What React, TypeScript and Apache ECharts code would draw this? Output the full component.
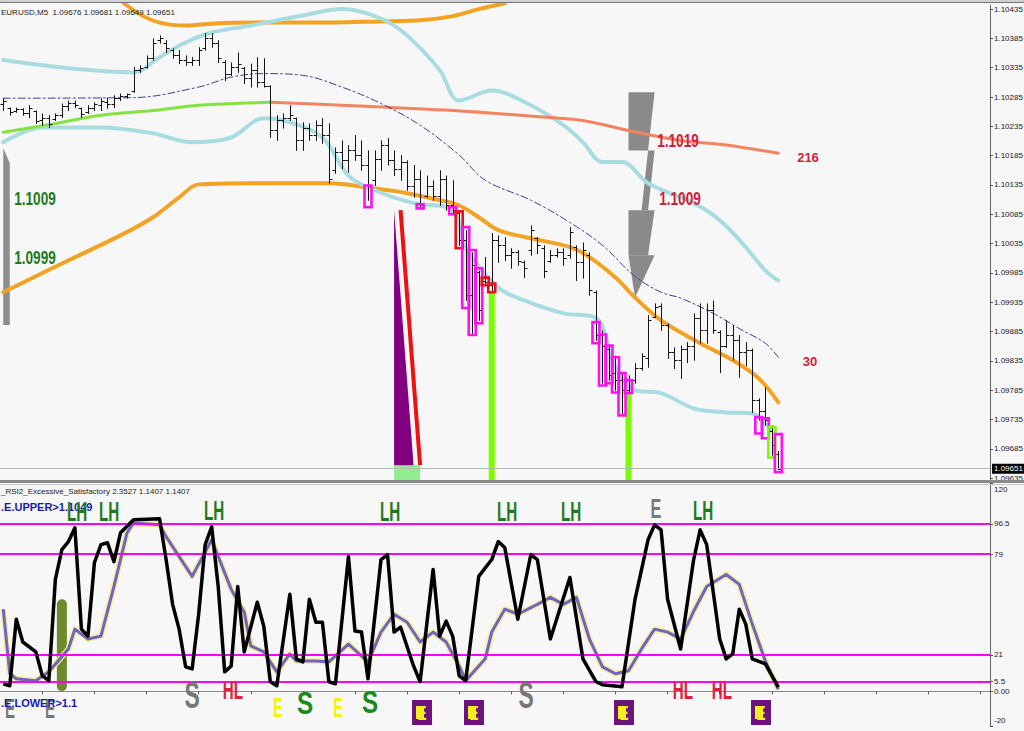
import React, { useEffect, useRef } from "react";
import * as echarts from "echarts";

// ---------- data ----------
const SLOT_COUNT = 152;
const categories = Array.from({ length: SLOT_COUNT }, (_, i) => String(i));

const priceTicks = [1.09635, 1.09685, 1.09735, 1.09785, 1.09835, 1.09885, 1.09935, 1.09985, 1.10035, 1.10085, 1.10135, 1.10185, 1.10235, 1.10285, 1.10335, 1.10385, 1.10435];
const rsiTicks = [120, 96.5, 79, 21, 5.5, 0, -20];
const rsiLevels = [96.5, 79, 21, 5.5];
const timeLabels = ["20 Nov 07:10", "20 Nov 07:50", "20 Nov 08:30", "20 Nov 09:10", "20 Nov 09:50", "20 Nov 10:30", "20 Nov 11:10", "20 Nov 11:50", "20 Nov 12:30", "20 Nov 13:10", "20 Nov 13:50", "20 Nov 14:30", "20 Nov 15:10", "20 Nov 15:50", "20 Nov 16:30", "20 Nov 17:10", "20 Nov 17:50", "20 Nov 18:30", "20 Nov 19:10"];
const lastClose = 1.09651;

// [open, high, low, close]
const bars = [
  [1.10273, 1.10283, 1.10262, 1.10278], [1.10266, 1.10267, 1.10254, 1.10259], [1.10261, 1.10267, 1.10259, 1.10264], [1.10264, 1.10266, 1.10254, 1.10257],
  [1.10257, 1.10271, 1.1025, 1.10266], [1.10261, 1.10262, 1.1024, 1.10244], [1.10245, 1.10257, 1.10237, 1.10249], [1.10249, 1.10254, 1.10233, 1.10239],
  [1.10247, 1.10257, 1.10245, 1.10254], [1.10254, 1.10274, 1.1025, 1.10269], [1.10269, 1.10279, 1.10262, 1.10274], [1.10274, 1.10279, 1.10267, 1.10271],
  [1.10266, 1.10267, 1.1025, 1.10256], [1.10259, 1.10271, 1.10257, 1.10266], [1.10266, 1.10276, 1.10262, 1.10273], [1.10271, 1.10283, 1.10262, 1.10278],
  [1.10276, 1.10284, 1.10266, 1.10273], [1.10273, 1.10288, 1.10267, 1.10284], [1.10284, 1.10291, 1.10279, 1.10286], [1.10286, 1.10291, 1.10283, 1.1029],
  [1.10296, 1.10336, 1.10293, 1.10331], [1.10331, 1.10339, 1.10327, 1.10334], [1.10337, 1.10356, 1.10334, 1.10351], [1.10351, 1.10385, 1.10348, 1.10378],
  [1.10382, 1.1039, 1.10377, 1.10385], [1.10378, 1.10382, 1.10361, 1.10368], [1.10366, 1.10368, 1.10351, 1.10356], [1.10356, 1.10365, 1.10342, 1.10348],
  [1.10348, 1.10356, 1.10339, 1.10344], [1.10344, 1.10353, 1.10339, 1.10348], [1.10348, 1.1037, 1.10339, 1.10365], [1.10368, 1.10394, 1.10365, 1.10385],
  [1.10385, 1.10394, 1.1037, 1.10377], [1.10377, 1.10382, 1.10344, 1.10351], [1.10344, 1.10348, 1.10313, 1.10324], [1.10325, 1.10344, 1.10322, 1.10337],
  [1.10337, 1.10361, 1.10327, 1.10341], [1.10334, 1.10336, 1.10308, 1.10317], [1.10317, 1.10342, 1.10302, 1.10331], [1.10331, 1.10353, 1.10302, 1.1031],
  [1.1031, 1.10351, 1.10302, 1.10303], [1.10303, 1.10305, 1.10216, 1.10228], [1.10228, 1.10254, 1.10211, 1.10245], [1.10245, 1.10257, 1.10232, 1.10249],
  [1.1025, 1.10271, 1.10245, 1.10254], [1.10249, 1.1025, 1.10194, 1.10211], [1.10211, 1.10242, 1.10194, 1.10232], [1.10232, 1.1024, 1.10211, 1.1022],
  [1.1022, 1.10245, 1.10211, 1.10237], [1.10237, 1.10249, 1.10206, 1.1022], [1.1022, 1.1024, 1.10138, 1.10146], [1.1016, 1.10199, 1.10155, 1.10191],
  [1.10191, 1.10211, 1.10163, 1.10177], [1.10177, 1.10203, 1.10157, 1.10194], [1.10194, 1.1022, 1.10177, 1.10186], [1.10186, 1.10211, 1.1016, 1.10169],
  [1.10169, 1.10194, 1.10109, 1.10134], [1.10143, 1.10194, 1.10134, 1.1018], [1.1018, 1.10211, 1.1016, 1.10203], [1.10203, 1.10215, 1.10169, 1.10177],
  [1.10177, 1.10194, 1.10151, 1.10163], [1.10163, 1.10186, 1.10143, 1.10174], [1.10174, 1.10177, 1.10126, 1.10134], [1.10134, 1.10169, 1.10114, 1.10146],
  [1.10146, 1.1016, 1.10095, 1.101], [1.10117, 1.10151, 1.10114, 1.10134], [1.10134, 1.10143, 1.10109, 1.10117], [1.10117, 1.1016, 1.101, 1.10146],
  [1.10146, 1.10151, 1.10092, 1.101], [1.101, 1.10143, 1.10087, 1.10092], [1.10088, 1.1009, 1.10032, 1.10041], [1.10041, 1.10058, 1.09938, 1.09947],
  [1.09947, 1.1002, 1.09882, 1.09998], [1.09986, 1.09989, 1.09904, 1.09921], [1.09972, 1.10012, 1.09964, 1.09969], [1.09964, 1.10053, 1.09952, 1.10041],
  [1.10041, 1.10049, 1.10003, 1.10032], [1.10032, 1.10046, 1.10006, 1.10015], [1.10015, 1.10027, 1.09993, 1.1002], [1.1002, 1.10024, 1.09998, 1.10006],
  [1.10003, 1.10006, 1.09977, 1.09993], [1.10024, 1.10066, 1.10015, 1.10058], [1.10044, 1.10046, 1.10018, 1.10032], [1.10027, 1.10032, 1.09977, 1.09989],
  [1.10006, 1.10024, 1.10003, 1.10015], [1.10015, 1.10027, 1.10012, 1.1002], [1.1002, 1.10027, 1.09998, 1.1001], [1.10015, 1.10063, 1.1001, 1.10054],
  [1.1003, 1.10032, 1.09972, 1.10003], [1.10003, 1.10037, 1.09976, 1.10024], [1.10015, 1.1002, 1.09947, 1.09955], [1.09952, 1.09955, 1.0987, 1.09879],
  [1.09879, 1.09887, 1.09797, 1.09861], [1.09856, 1.09861, 1.09802, 1.0981], [1.09815, 1.09844, 1.09785, 1.09802], [1.09802, 1.09814, 1.09745, 1.09785],
  [1.09785, 1.0981, 1.0978, 1.09802], [1.09802, 1.09831, 1.09797, 1.09822], [1.09822, 1.09848, 1.09819, 1.09843], [1.09839, 1.09913, 1.09824, 1.09904],
  [1.09909, 1.09933, 1.09909, 1.09926], [1.09928, 1.09933, 1.09887, 1.09896], [1.09896, 1.09899, 1.09839, 1.0985], [1.0985, 1.09858, 1.09822, 1.09836],
  [1.09836, 1.09861, 1.09805, 1.09856], [1.09856, 1.09867, 1.09832, 1.09861], [1.09861, 1.09916, 1.09836, 1.09908], [1.09908, 1.09933, 1.09865, 1.09887],
  [1.09887, 1.09933, 1.09865, 1.09921], [1.09921, 1.09938, 1.09882, 1.09887], [1.09884, 1.09887, 1.09815, 1.09861], [1.09861, 1.09904, 1.09858, 1.09879],
  [1.09879, 1.09896, 1.09836, 1.0987], [1.0987, 1.09879, 1.09807, 1.0985], [1.0985, 1.09867, 1.09827, 1.09853], [1.09853, 1.09856, 1.09747, 1.09768],
  [1.09768, 1.09771, 1.09734, 1.0975], [1.0975, 1.0979, 1.09725, 1.09734], [1.09716, 1.09725, 1.09674, 1.09691], [1.09676, 1.09681, 1.09649, 1.09651],
];

// highlighted bars: [bar index, top, bottom, kind]
const boxes = [
  [56, 1.10134, 1.10097, "m"], [64, 1.10102, 1.10095, "m"], [69, 1.10097, 1.10085, "m"], [70, 1.1009, 1.10027, "r"],
  [71, 1.10063, 1.09925, "m"], [72, 1.10024, 1.09879, "m"], [73, 1.09993, 1.09899, "m"], [74, 1.09977, 1.09964, "r"],
  [75, 1.09967, 1.09952, "r"], [91, 1.09901, 1.09865, "m"], [92, 1.0988, 1.09793, "m"], [93, 1.09861, 1.09797, "m"],
  [94, 1.09841, 1.09781, "m"], [95, 1.09814, 1.09742, "m"], [96, 1.09802, 1.0978, "m"], [116, 1.09739, 1.09711, "m"],
  [117, 1.09737, 1.09703, "m"], [118, 1.09722, 1.0967, "g"], [119, 1.0971, 1.09645, "m"],
];
const signalBars = [[75, 1.09952], [96, 1.0978]];

// moving averages / bands: [bar index, price]
const orangeUpper = [[18, 1.1045], [21, 1.10426], [24, 1.10412], [28, 1.10407], [33, 1.10411], [40, 1.10412], [50, 1.10412], [58, 1.10414], [64, 1.10416], [69, 1.10423], [73, 1.10435], [77, 1.10445]];
const orangeMA = [[0, 1.09952], [9, 1.10001], [18, 1.10049], [23, 1.1008], [27, 1.10114], [30, 1.10136], [38, 1.10138], [50, 1.10138], [57, 1.10129], [62, 1.10121], [67, 1.10109], [70, 1.101], [73, 1.1008], [76, 1.10058], [81, 1.10044], [87, 1.10029], [90, 1.10012], [94, 1.09977], [97, 1.09943], [101, 1.09904], [107, 1.09865], [112, 1.09836], [116, 1.09805], [119, 1.09764]];
const cyanUpper = [[0, 1.10348], [10, 1.10334], [20, 1.10327], [24, 1.10353], [28, 1.10378], [32, 1.10395], [38, 1.10407], [46, 1.10424], [52, 1.10435], [58, 1.10419], [62, 1.1039], [67, 1.10331], [70, 1.10279], [75, 1.10296], [81, 1.10271], [86, 1.10237], [89, 1.10208], [92, 1.10174], [95, 1.10174], [99, 1.10138], [106, 1.10104], [110, 1.10075], [114, 1.10029], [117, 1.09989], [119, 1.09972]];
const cyanLower = [[0, 1.10208], [6, 1.10233], [15, 1.10233], [23, 1.10223], [29, 1.10208], [35, 1.10216], [40, 1.10249], [44, 1.10242], [49, 1.10216], [53, 1.10151], [57, 1.10126], [63, 1.10104], [69, 1.10092], [71, 1.10029], [76, 1.0996], [80, 1.09938], [86, 1.09916], [91, 1.09908], [94, 1.09824], [97, 1.09785], [101, 1.0978], [106, 1.09754], [111, 1.09747], [115, 1.09745], [118, 1.09716]];
const greenMA = [[0, 1.10225], [8, 1.1024], [15, 1.10254], [23, 1.10262], [30, 1.10271], [41, 1.10276]];
const salmonMA = [[41, 1.10276], [52, 1.10271], [69, 1.10262], [84, 1.1025], [89, 1.10245], [96, 1.10228], [104, 1.10211], [111, 1.10203], [119, 1.10189]];
const dashMid = [[0, 1.10283], [20, 1.10284], [30, 1.10302], [35, 1.10319], [40, 1.10325], [46, 1.10322], [52, 1.10302], [58, 1.10274], [64, 1.10237], [70, 1.10186], [74, 1.10143], [81, 1.10109], [87, 1.10071], [92, 1.10032], [97, 1.09979], [101, 1.09952], [104, 1.09942], [109, 1.09916], [113, 1.0989], [117, 1.09865], [119, 1.09841]];

// RSI panel: [bar index, value]
const rsiMain = [[0, 4.3], [1, 3.2], [2, 41.5], [3, 28.4], [5, 22.7], [6, 8.9], [7, 6.1], [8, 64.5], [9, 81.6], [10, 86.2], [11, 94.2], [12, 35.8], [13, 31.8], [14, 74.2], [15, 84.5], [16, 85.6], [17, 74.7], [18, 91.3], [20, 98.8], [24, 99.4], [25, 75.9], [26, 50.1], [27, 35.8], [28, 14.1], [29, 12.9], [30, 44.4], [31, 84.5], [32, 94.8], [33, 60.4], [34, 11.2], [35, 14.6], [36, 60.4], [37, 22.7], [39, 51.3], [40, 37.5], [41, 5.5], [42, 3.2], [44, 55.9], [45, 18.7], [46, 16.9], [47, 53], [48, 39.8], [49, 39.8], [50, 5.5], [51, 4.3], [53, 77.6], [54, 34.7], [55, 34.1], [56, 7.2], [58, 75.9], [59, 78.8], [60, 34.1], [61, 37], [63, 14.6], [64, 5.5], [66, 70.2], [67, 31.8], [68, 40.4], [69, 31.8], [70, 8.9], [71, 6.1], [73, 66.2], [75, 75.9], [76, 86.2], [77, 82.8], [79, 41.5], [81, 78.8], [82, 75.9], [84, 30.1], [87, 65.6], [89, 18.7], [91, 5.5], [92, 3.8], [95, 2.6], [97, 53], [99, 87.3], [100, 95.9], [101, 93], [102, 53], [104, 24.4], [106, 75.9], [107, 93], [108, 84.5], [110, 30.1], [111, 18.7], [112, 21.5], [113, 47.3], [114, 38.7], [115, 18.7], [117, 15.8], [119, 2.3527]];
const rsiSignal = [[0, 47.3], [1, 10.1], [2, 7.2], [5, 6.1], [7, 11.2], [10, 24.4], [11, 35.8], [13, 30.1], [15, 31.8], [17, 60.4], [19, 91.3], [20, 97], [24, 95.9], [25, 89.1], [29, 66.2], [32, 87.3], [35, 58.7], [37, 45.6], [38, 26.1], [40, 22.7], [42, 11.2], [44, 21.5], [45, 17.5], [48, 17.5], [50, 16.9], [51, 20.4], [53, 27.2], [56, 16.9], [58, 34.1], [60, 44.4], [62, 39.8], [64, 28.4], [66, 34.1], [68, 28.4], [70, 14.6], [71, 6.1], [74, 18.7], [75, 34.1], [77, 47.3], [79, 44.4], [82, 50.1], [84, 54.1], [86, 50.1], [88, 54.1], [90, 30.1], [92, 14.1], [94, 10.1], [96, 11.8], [98, 24.4], [100, 35.8], [102, 34.1], [104, 30.1], [106, 46.1], [108, 60.4], [111, 67.3], [113, 61.6], [115, 38.7], [117, 17.5], [119, 1.1407]];
const excessBar = [[9, 53]];

// ---------- drawing helpers ----------
const PRICE_MIN = 1.0963;
const PRICE_MAX = 1.10442;
const BOLD = '"Liberation Sans", Arial, sans-serif';
const SANS = '"Liberation Sans", Arial, sans-serif';
const boxColors = { m: "#ff10f0", r: "#e8101a", g: "#7cfc00" };

// chart objects (trend drawings) in data coordinates
const drawings = [
  { kind: "poly", fill: "#8e8e8e", pts: [[-0.5, 1.10203], [0.27, 1.10198], [1.19, 1.10172], [1.34, 1.10092], [1.19, 1.10006], [0.88, 1.09896], [-0.5, 1.09896]] },
  { kind: "poly", fill: "#8a8a8a", pts: [[96.28, 1.10293], [100.43, 1.10293], [99.35, 1.10194], [96.28, 1.10194]] },
  { kind: "poly", fill: "#8a8a8a", pts: [[99.35, 1.10194], [100.43, 1.10194], [98.74, 1.10092], [97.81, 1.10092]] },
  { kind: "poly", fill: "#8a8a8a", pts: [[96.28, 1.10092], [100.43, 1.10092], [99.35, 1.10015], [96.28, 1.10015]] },
  { kind: "poly", fill: "#8a8a8a", pts: [[96.28, 1.10015], [100.43, 1.10015], [96.74, 1.09943]] },
  { kind: "poly", fill: "#90ee90", pts: [[60.33, 1.09657], [63.7, 1.09657], [63.7, 1.0963], [60.33, 1.0963]] },
  { kind: "poly", fill: "#800080", pts: [[60.33, 1.10092], [60.33, 1.09657], [63.25, 1.09657]] },
  { kind: "line", stroke: "#ee1111", width: 4, pts: [[60.5, 1.10092], [64.0, 1.09657]] },
];

const labelMarks = [
  // [text, x, y, color, fontSize, scaleX, scaleY]
  ["1.1009", 35, 198, "#1d7a1d", 17, 0.8, 1.1],
  ["1.0999", 35, 257, "#1d7a1d", 17, 0.8, 1.1],
  ["1.1019", 678, 140, "#d41c3c", 17, 0.8, 1.1],
  ["1.1009", 680, 198, "#d41c3c", 17, 0.8, 1.1],
  ["216", 808, 157, "#d41c3c", 13, 1, 1],
  ["30", 810, 361, "#d41c3c", 13, 1, 1],
  ["LH", 77, 512, "#1c7c1c", 20, 0.76, 1.4],
  ["LH", 109, 512, "#1c7c1c", 20, 0.76, 1.4],
  ["LH", 214, 511, "#1c7c1c", 20, 0.76, 1.4],
  ["LH", 390, 512, "#1c7c1c", 20, 0.76, 1.4],
  ["LH", 507, 512, "#1c7c1c", 20, 0.76, 1.4],
  ["LH", 571, 512, "#1c7c1c", 20, 0.76, 1.4],
  ["LH", 703, 511, "#1c7c1c", 20, 0.76, 1.4],
  ["E", 656, 508, "#7a7a7a", 18, 0.9, 1.55],
  ["S", 192, 695, "#777777", 24, 0.95, 1.55],
  ["S", 526, 695, "#777777", 24, 0.95, 1.55],
  ["S", 305, 703, "#1a8a1a", 22, 1.1, 1.45],
  ["S", 370, 702, "#1a8a1a", 22, 1.1, 1.45],
  ["HL", 233, 690, "#e0203a", 19, 0.8, 1.4],
  ["HL", 683, 690, "#e0203a", 19, 0.8, 1.4],
  ["HL", 722, 690, "#e0203a", 19, 0.8, 1.4],
  ["E", 10, 709, "#777777", 15, 1, 1.85],
  ["E", 50, 709, "#777777", 15, 1, 1.85],
  ["E", 278, 708, "#f2f20a", 14, 1, 2],
  ["E", 338, 708, "#f2f20a", 14, 1, 2],
];
const purpleE = [[422, 712], [474, 712], [624, 712], [761, 712]];

function App() {
  const ref = useRef<HTMLDivElement>(null);
  useEffect(() => {
    if (!ref.current) return;
    const chart = echarts.init(ref.current, null, { renderer: "svg" });

    const tickIdx = (idx: number) => idx >= 6 && (idx - 6) % 8 === 0;

    const graphic: any[] = [
      { type: "rect", shape: { x: 0, y: 0, width: 1024, height: 2 }, style: { fill: "#d0d0d0" }, z: 90 },
      { type: "line", shape: { x1: 0, y1: 2.5, x2: 1024, y2: 2.5 }, style: { stroke: "#777", lineWidth: 1 }, z: 90 },
      { type: "rect", shape: { x: 0, y: 480, width: 1024, height: 3 }, style: { fill: "#8a8a8a" }, z: 90 },
      { type: "line", shape: { x1: 0, y1: 484.5, x2: 1024, y2: 484.5 }, style: { stroke: "#c8c8c8", lineWidth: 1 }, z: 90 },
      { type: "text", x: 1, y: 12, z: 95, style: { text: "EURUSD,M5  1.09676 1.09681 1.09649 1.09651", fontSize: 8, fontFamily: SANS, fill: "#222", verticalAlign: "middle" } },
      { type: "text", x: 1, y: 491, z: 95, style: { text: "_RSI2_Excessive_Satisfactory 2.3527 1.1407 1.1407", fontSize: 8, fontFamily: SANS, fill: "#222", verticalAlign: "middle" } },
      { type: "text", x: 1, y: 507, z: 95, style: { text: ".E.UPPER>1.1049", fontSize: 11, fontWeight: "bold", fontFamily: SANS, fill: "#1a1aa8", verticalAlign: "middle" } },
      { type: "text", x: 1, y: 703, z: 97, style: { text: ".E.LOWER>1.1", fontSize: 11, fontWeight: "bold", fontFamily: SANS, fill: "#1a1aa8", verticalAlign: "middle" } },
    ];
    labelMarks.forEach(([text, x, y, color, size, sx, sy]) => {
      graphic.push({
        type: "text", x, y, scaleX: sx, scaleY: sy, z: 96,
        style: { text, fontSize: size, fontWeight: "bold", fontFamily: BOLD, fill: color, align: "center", verticalAlign: "middle" },
      });
    });
    purpleE.forEach(([x, y]) => {
      graphic.push({ type: "rect", shape: { x: x - 10, y: y - 12, width: 20, height: 25 }, style: { fill: "#6a147c" }, z: 96 });
      graphic.push({ type: "rect", shape: { x: x - 6, y: y - 6, width: 8, height: 13 }, style: { fill: "#f2ee20" }, z: 96 });
      graphic.push({
        type: "text", x, y: y + 1, scaleX: 0.9, scaleY: 1.4, z: 97,
        style: { text: "E", fontSize: 15, fontWeight: "bold", fontFamily: BOLD, fill: "#f2ee20", align: "center", verticalAlign: "middle" },
      });
    });

    const lineSeries = (name: string, data: number[][], color: string, width: number, extra: any = {}) => ({
      name, type: "line", xAxisIndex: 0, yAxisIndex: 0, data, symbol: "none", smooth: 0.35,
      lineStyle: { color, width, cap: "round", ...(extra.lineStyle || {}) }, z: extra.z ?? 2, silent: true,
      ...(extra.markLine ? { markLine: extra.markLine } : {}),
    });

    const option: any = {
      animation: false,
      backgroundColor: "#f7f7f7",
      grid: [
        { left: 0, right: 34, top: 5, height: 476, containLabel: false, outerBoundsMode: "none" },
        { left: 0, right: 34, top: 483, height: 243, containLabel: false, outerBoundsMode: "none" },
      ],
      xAxis: [
        { type: "category", gridIndex: 0, data: categories, boundaryGap: true, axisLine: { show: false }, axisTick: { show: false }, axisLabel: { show: false }, splitLine: { show: false } },
        {
          type: "category", gridIndex: 1, data: categories, boundaryGap: true,
          axisLine: { show: true, lineStyle: { color: "#8a8a8a", width: 1 } },
          axisTick: { show: true, alignWithLabel: true, interval: tickIdx, length: 3, lineStyle: { color: "#555" } },
          axisLabel: { show: true, interval: tickIdx, formatter: (_v: string, idx: number) => timeLabels[(idx - 6) / 8] ?? "", align: "left", fontSize: 8, margin: 3, color: "#333", fontFamily: SANS },
          splitLine: { show: false },
        },
      ],
      yAxis: [
        {
          type: "value", gridIndex: 0, position: "right", min: PRICE_MIN, max: PRICE_MAX,
          splitLine: { show: false },
          axisLine: { show: true, lineStyle: { color: "#666" } },
          axisTick: { show: true, customValues: priceTicks, length: 3, lineStyle: { color: "#555" } },
          axisLabel: { customValues: priceTicks, formatter: (v: number) => v.toFixed(5), fontSize: 8, color: "#222", margin: 4, fontFamily: SANS },
        },
        {
          type: "value", gridIndex: 1, position: "right", min: -20, max: 120,
          splitLine: { show: false },
          axisLine: { show: true, lineStyle: { color: "#666" } },
          axisTick: { show: true, customValues: rsiTicks, length: 3, lineStyle: { color: "#555" } },
          axisLabel: {
            customValues: rsiTicks, fontSize: 8, color: "#222", margin: 4, fontFamily: SANS,
            formatter: (v: number) => (v === 120 ? "{t|120}" : v === -20 ? "{b|-20}" : v === 0 ? "0.00" : String(v)),
            rich: { t: { fontSize: 8, fontFamily: SANS, color: "#222", padding: [13, 0, 0, 0] }, b: { fontSize: 8, fontFamily: SANS, color: "#222", padding: [0, 0, 12, 0] } },
          },
        },
      ],
      graphic,
      series: [
        {
          name: "drawings", type: "custom", xAxisIndex: 0, yAxisIndex: 0, z: 1, silent: true,
          data: drawings.map((_, k) => [k, PRICE_MIN]),
          encode: { x: 0, y: 1 },
          renderItem: (params: any, api: any) => {
            const d = drawings[params.dataIndex];
            const pts = d.pts.map((p) => api.coord(p));
            if (d.kind === "poly") return { type: "polygon", shape: { points: pts }, style: { fill: d.fill } };
            return { type: "polyline", shape: { points: pts }, style: { stroke: d.stroke, lineWidth: d.width, fill: null } };
          },
        },
        lineSeries("orangeUpper", orangeUpper, "#f2a323", 4),
        lineSeries("orangeMA", orangeMA, "#f2a323", 4),
        lineSeries("cyanUpper", cyanUpper, "#a9dce0", 4),
        lineSeries("cyanLower", cyanLower, "#a9dce0", 4),
        lineSeries("greenMA", greenMA, "#86e23e", 3),
        lineSeries("salmonMA", salmonMA, "#f28462", 3),
        lineSeries("dashMid", dashMid, "#3c3c8c", 1, {
          lineStyle: { type: [7, 3, 2, 3] },
          markLine: {
            silent: true, symbol: ["none", "none"], precision: 5,
            data: [{ yAxis: lastClose }],
            lineStyle: { color: "#b8b8b8", width: 1, type: "solid" },
            label: { show: true, position: "end", distance: 2, formatter: () => lastClose.toFixed(5), backgroundColor: "#000", color: "#fff", fontSize: 8, fontFamily: SANS, padding: [1, 2, 1, 2] },
          },
        }),
        {
          name: "signal", type: "bar", xAxisIndex: 0, yAxisIndex: 0, data: signalBars, barWidth: 6, z: 3, silent: true,
          itemStyle: { color: "#7cfc00" },
        },
        {
          name: "ohlc", type: "custom", xAxisIndex: 0, yAxisIndex: 0, z: 4, silent: true,
          data: bars.map((b, i) => [i, b[0], b[1], b[2], b[3]]),
          encode: { x: 0, y: [1, 2, 3, 4] },
          renderItem: (_p: any, api: any) => {
            const i = api.value(0);
            const [x, yo] = api.coord([i, api.value(1)]);
            const yh = api.coord([i, api.value(2)])[1];
            const yl = api.coord([i, api.value(3)])[1];
            const yc = api.coord([i, api.value(4)])[1];
            const cx = Math.round(x) + 0.5;
            const st = { stroke: "#141414", lineWidth: 1 };
            return {
              type: "group",
              children: [
                { type: "line", shape: { x1: cx, y1: yh, x2: cx, y2: yl + 0.5 }, style: st },
                { type: "line", shape: { x1: cx - 3, y1: Math.round(yo) + 0.5, x2: cx, y2: Math.round(yo) + 0.5 }, style: st },
                { type: "line", shape: { x1: cx, y1: Math.round(yc) + 0.5, x2: cx + 3, y2: Math.round(yc) + 0.5 }, style: st },
              ],
            };
          },
        },
        {
          name: "boxes", type: "custom", xAxisIndex: 0, yAxisIndex: 0, z: 5, silent: true,
          data: boxes.map((b) => [b[0], b[1], b[2]]),
          encode: { x: 0, y: [1, 2] },
          renderItem: (params: any, api: any) => {
            const i = api.value(0);
            const [x, yt] = api.coord([i, api.value(1)]);
            const yb = api.coord([i, api.value(2)])[1];
            const kind = boxes[params.dataIndex][3] as keyof typeof boxColors;
            return {
              type: "rect",
              shape: { x: x - 3.5, y: yt, width: 7, height: Math.max(3, yb - yt) },
              style: { fill: null, stroke: boxColors[kind], lineWidth: 2.6 },
            };
          },
        },
        {
          name: "excess", type: "bar", xAxisIndex: 1, yAxisIndex: 1, data: excessBar, barWidth: 10, z: 2, silent: true,
          itemStyle: { color: "#6e8b2c", borderRadius: 5 },
        },
        {
          name: "rsiGlow", type: "line", xAxisIndex: 1, yAxisIndex: 1, data: rsiSignal, symbol: "none", silent: true, z: 3,
          lineStyle: { color: "#f3ef8a", width: 6, opacity: 0.85, join: "round" },
        },
        {
          name: "rsiMain", type: "line", xAxisIndex: 1, yAxisIndex: 1, data: rsiMain, symbol: "none", silent: true, z: 5,
          lineStyle: { color: "#000", width: 3.5, join: "round" },
          markLine: {
            silent: true, symbol: ["none", "none"], label: { show: false }, precision: 3,
            lineStyle: { color: "#ff00ff", width: 2, type: "solid" },
            data: rsiLevels.map((v) => ({ yAxis: v })),
          },
        },
        {
          name: "rsiSignal", type: "line", xAxisIndex: 1, yAxisIndex: 1, data: rsiSignal, symbol: "none", silent: true, z: 4,
          lineStyle: { color: "#7262c4", width: 3, join: "round" },
        },
      ],
    };
    chart.setOption(option);
    return () => chart.dispose();
  }, []);
  return <div ref={ref} style={{ position: "fixed", left: 0, top: 0, width: 1024, height: 731 }} />;
}

export default App;
